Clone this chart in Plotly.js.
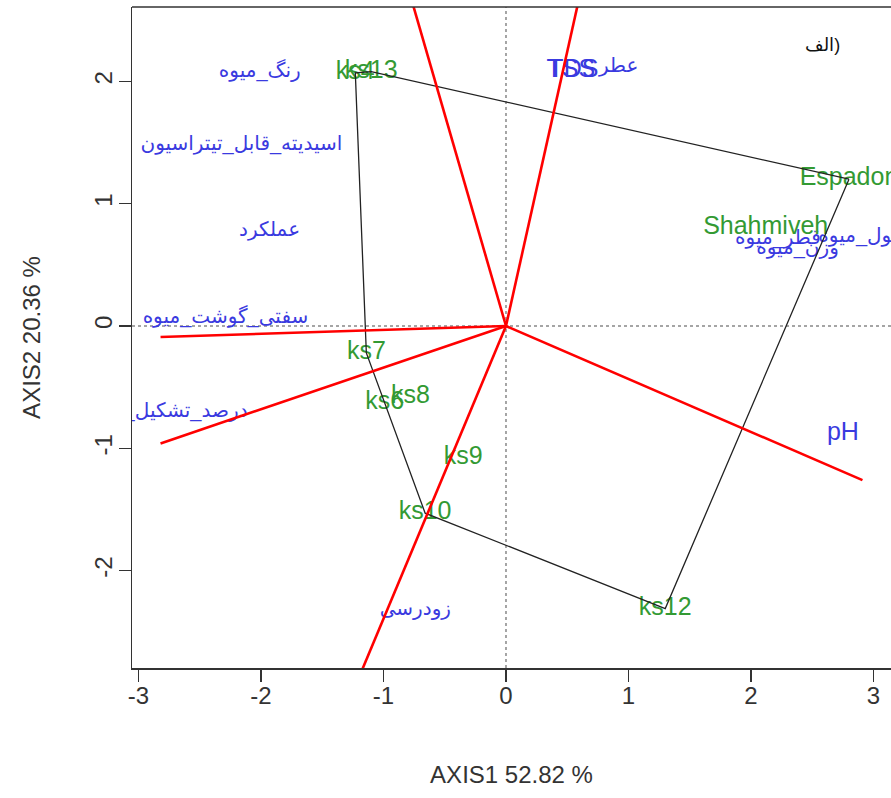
<!DOCTYPE html>
<html>
<head>
<meta charset="utf-8">
<script src="https://cdn.plot.ly/plotly-3.0.1.min.js"></script>
<style>html,body{margin:0;padding:0;overflow:hidden;background:#fff}</style>
</head>
<body>
<div id="chart" style="width:891px;height:798px"></div>
<script>
// Genotypes (green labels)
const genoNames = ['ks13','ks4','Espadon','Shahmiveh','ks7','ks6','ks8','ks9','ks10','ks12'];
const genoX = [-1.10, -1.23, 2.80, 2.12, -1.14, -0.99, -0.78, -0.35, -0.66, 1.30];
const genoY = [2.08, 2.07, 1.20, 0.80, -0.22, -0.63, -0.58, -1.08, -1.53, -2.31];

// Polygon (which-won-where) vertices, by genotype name
const hullOrder = ['Espadon','ks13','ks4','ks7','ks10','ks12','Espadon'];

// Traits (blue labels)
const traitNames = ['رنگ_میوه','اسیدیته_قابل_تیتراسیون','عملکرد','سفتی_گوشت_میوه','درصد_تشکیل_میوه','زودرسی','pH','عطر','TSS','TDS','طول_میوه','قطر_میوه','وزن_میوه'];
const traitX = [-2.01, -2.16, -1.93, -2.29, -2.11, -0.74, 2.75, 0.92, 0.53, 0.55, 2.55, 2.22, 2.38];
const traitY = [2.08, 1.48, 0.78, 0.065, -0.70, -2.32, -0.88, 2.12, 2.09, 2.09, 0.73, 0.71, 0.63];

// Red rays from origin (end points)
const rayX = [0.613, -0.795, -2.82, -2.82, -1.22, 2.91];
const rayY = [2.75, 2.75, -0.09, -0.96, -2.92, -1.26];

// Axis ticks
const tickVals = [-3, -2, -1, 0, 1, 2, 3];
const yTickVals = [-2, -1, 0, 1, 2];
const xTitle = 'AXIS1 52.82 %';
const yTitle = 'AXIS2 20.36 %';
const panelLabel = '\u200Eالف)';

const FONT = "Arial, 'Liberation Sans', 'DejaVu Sans', sans-serif";
const GREEN = '#339a33';
const BLUE = '#3a3ae0';

// anchor for clipped labels, size by script
const traitPos = traitNames.map(n => n === 'درصد_تشکیل_میوه' ? 'middle left' : (n === 'طول_میوه' ? 'middle right' : 'middle center'));
const traitSize = traitNames.map(n => /^[A-Za-z]+$/.test(n) ? 25 : 20);

const traces = [];
traces.push({
  type: 'scatter', mode: 'text', x: traitX, y: traitY, text: traitNames,
  textposition: traitPos, cliponaxis: true,
  textfont: {family: FONT, size: traitSize, color: BLUE}, hoverinfo: 'skip', showlegend: false
});
traces.push({
  type: 'scatter', mode: 'text', x: genoX, y: genoY, text: genoNames,
  textposition: 'middle center', cliponaxis: true,
  textfont: {family: FONT, size: 25, color: GREEN}, hoverinfo: 'skip', showlegend: false
});
// polygon
const hx = hullOrder.map(n => genoX[genoNames.indexOf(n)]);
const hy = hullOrder.map(n => genoY[genoNames.indexOf(n)]);
traces.push({
  type: 'scatter', mode: 'lines', x: hx, y: hy,
  line: {color: '#222', width: 1.3}, hoverinfo: 'skip', showlegend: false
});
// rays
const rx = [], ry = [];
rayX.forEach((v, i) => { rx.push(0, v, null); ry.push(0, rayY[i], null); });
traces.push({
  type: 'scatter', mode: 'lines', x: rx, y: ry, cliponaxis: true,
  line: {color: '#ff0000', width: 2.6}, hoverinfo: 'skip', showlegend: false
});

const layout = {
  width: 891, height: 798,
  margin: {l: 132, r: 0, t: 7, b: 130},
  paper_bgcolor: '#fff', plot_bgcolor: '#fff',
  showlegend: false,
  font: {family: FONT, color: '#333'},
  xaxis: {
    range: [-3.053, 3.143], tickvals: tickVals, ticktext: tickVals.map(String),
    ticks: 'outside', ticklen: 12, tickwidth: 1.3, tickcolor: '#333',
    showline: true, linecolor: '#333', linewidth: 1.5, mirror: false,
    showgrid: false, zeroline: false, ticklabelstandoff: -6,
    tickfont: {size: 24, color: '#333'},
    title: {text: xTitle, font: {size: 24, color: '#333'}, standoff: 58}
  },
  yaxis: {
    range: [-2.796, 2.608], tickvals: yTickVals, ticktext: yTickVals.map(String),
    ticks: 'outside', ticklen: 12, tickwidth: 1.3, tickcolor: '#333', tickangle: -90,
    showline: true, linecolor: '#333', linewidth: 1.5, mirror: false,
    showgrid: false, zeroline: false, ticklabelstandoff: -3,
    tickfont: {size: 24, color: '#333'},
    title: {text: yTitle, font: {size: 24, color: '#333'}, standoff: 42}
  },
  shapes: [
    {type: 'line', xref: 'x', yref: 'paper', x0: 0, x1: 0, y0: 0, y1: 1, layer: 'below',
     line: {color: '#888', width: 1.5, dash: 'dot'}},
    {type: 'line', xref: 'paper', yref: 'y', x0: 0, x1: 1, y0: 0, y1: 0, layer: 'below',
     line: {color: '#888', width: 1.5, dash: 'dot'}},
    {type: 'line', xref: 'paper', yref: 'paper', x0: 0, x1: 1, y0: 1, y1: 1,
     line: {color: '#333', width: 1.5}}
  ],
  annotations: [
    {xref: 'x', yref: 'y', x: 2.58, y: 2.30, text: panelLabel, showarrow: false,
     font: {family: FONT, size: 18, color: '#111'}}
  ]
};

Plotly.newPlot('chart', traces, layout, {displayModeBar: false, staticPlot: true});
</script>
</body>
</html>
